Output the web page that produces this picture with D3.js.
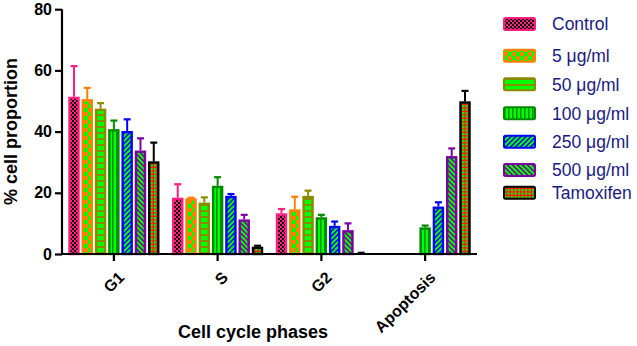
<!DOCTYPE html>
<html><head><meta charset="utf-8">
<script src="https://cdn.jsdelivr.net/npm/d3@7"></script>
<style>body{margin:0;background:#fff}svg{display:block}</style>
</head><body>
<svg id="c" width="637" height="346"></svg>
<script>
const phases = ["G1", "S", "G2", "Apoptosis"];
const seriesNames = ["Control", "5 \u03bcg/ml", "50 \u03bcg/ml", "100 \u03bcg/ml", "250 \u03bcg/ml", "500 \u03bcg/ml", "Tamoxifen"];
// means per series, in phase order G1, S, G2, Apoptosis
const control   = [51.4, 18.4, 13.3, 0];
const ug5       = [50.6, 18.2, 14.6, 0];
const ug50      = [47.5, 16.8, 19.0, 0];
const ug100     = [40.8, 22.3, 12.0, 8.7];
const ug250     = [40.2, 19.0, 9.2, 15.5];
const ug500     = [33.8, 11.3, 7.8, 32.0];
const tamoxifen = [30.3, 2.4, 0.3, 49.9];
// upper error bar ends
const controlErr   = [61.4, 22.8, 14.7, 0];
const ug5Err       = [54.3, 18.4, 18.7, 0];
const ug50Err      = [49.3, 18.5, 20.7, 0];
const ug100Err     = [43.6, 25.1, 12.8, 9.3];
const ug250Err     = [44.0, 19.6, 10.6, 16.9];
const ug500Err     = [37.8, 12.8, 10.0, 34.5];
const tamoxifenErr = [36.4, 2.7, 0.4, 53.3];
const yTicks = [0, 20, 40, 60, 80];

const means = [control, ug5, ug50, ug100, ug250, ug500, tamoxifen];
const errs = [controlErr, ug5Err, ug50Err, ug100Err, ug250Err, ug500Err, tamoxifenErr];

const strokeCols = ["#ff1f82", "#ff8000", "#8a8a00", "#008a00", "#0000ff", "#7a00a0", "#000000"];
const G = "#00ff00";

const svg = d3.select("#c");
const defs = svg.append("defs");
function pat(id, w, h, draw) {
  const p = defs.append("pattern").attr("id", id).attr("patternUnits", "userSpaceOnUse")
    .attr("width", w).attr("height", h);
  draw(p);
}
pat("p0", 4, 4, p => {
  p.append("rect").attr("width", 4).attr("height", 4).attr("fill", "#ff1f82");
  p.append("rect").attr("width", 2).attr("height", 2).attr("fill", "#000");
  p.append("rect").attr("x", 2).attr("y", 2).attr("width", 2).attr("height", 2).attr("fill", "#000");
});
pat("p1", 8, 8, p => {
  p.append("rect").attr("width", 8).attr("height", 8).attr("fill", "#ff8000");
  p.append("rect").attr("width", 4).attr("height", 4).attr("fill", G);
  p.append("rect").attr("x", 4).attr("y", 4).attr("width", 4).attr("height", 4).attr("fill", G);
});
pat("p2", 6, 6, p => {
  p.append("rect").attr("width", 6).attr("height", 6).attr("fill", G);
  p.append("rect").attr("width", 6).attr("height", 2).attr("fill", "#8a8a00");
});
pat("p3", 4, 4, p => {
  p.append("rect").attr("width", 4).attr("height", 4).attr("fill", G);
  p.append("rect").attr("width", 1.5).attr("height", 4).attr("fill", "#008a00");
});
pat("p4", 5, 5, p => {
  p.append("rect").attr("width", 5).attr("height", 5).attr("fill", "#0000ff");
  p.append("path").attr("d", "M-1,6 L6,-1 M-1,1 L1,-1 M4,6 L6,4").attr("stroke", G).attr("stroke-width", 2);
});
pat("p5", 5, 5, p => {
  p.append("rect").attr("width", 5).attr("height", 5).attr("fill", "#7a00a0");
  p.append("path").attr("d", "M-1,-1 L6,6 M4,-1 L6,1 M-1,4 L1,6").attr("stroke", G).attr("stroke-width", 2);
});
pat("p6", 3.5, 3.5, p => {
  p.append("rect").attr("width", 3.5).attr("height", 3.5).attr("fill", "#ff1010");
  p.append("rect").attr("width", 2.2).attr("height", 2.2).attr("fill", G);
});

const x0 = d3.scaleBand().domain(phases).range([62, 477]).padding(0);
const x1 = d3.scaleBand().domain(d3.range(seriesNames.length)).range([0, 91.2]).paddingInner(0.14).paddingOuter(0);
const y = d3.scaleLinear().domain([0, 80]).range([254, 9.2]);

// bars
const data = [];
seriesNames.forEach((s, si) => phases.forEach((ph, pi) => data.push({si, ph, v: means[si][pi], e: errs[si][pi]})));
const bx = d => x0(d.ph) + x0.bandwidth() / 2 - 91.2 / 2 + x1(d.si);

const gBars = svg.append("g");
data.filter(d => d.v > 0).forEach(d => {
  const xl = bx(d), w = x1.bandwidth();
  if (d.e > d.v) {
    gBars.append("line").attr("x1", xl + w / 2).attr("x2", xl + w / 2)
      .attr("y1", y(d.v)).attr("y2", y(d.e)).attr("stroke", strokeCols[d.si]).attr("stroke-width", 2);
    gBars.append("line").attr("x1", xl + w / 2 - 3.5).attr("x2", xl + w / 2 + 3.5)
      .attr("y1", y(d.e)).attr("y2", y(d.e)).attr("stroke", strokeCols[d.si]).attr("stroke-width", 2.2);
  }
  gBars.append("rect").attr("x", xl + 1.2).attr("width", w - 2.4)
    .attr("y", y(d.v) + 1.2).attr("height", Math.max(0, y(0) - y(d.v) - 1.2))
    .attr("fill", `url(#p${d.si})`).attr("stroke", strokeCols[d.si]).attr("stroke-width", 2.4);
});

// y axis
const yAxis = svg.append("g").attr("transform", "translate(62,0)")
  .call(d3.axisLeft(y).tickValues(yTicks).tickSize(7).tickPadding(3).tickFormat(d3.format("d")));
yAxis.select(".domain").attr("stroke-width", 2.2).attr("d", `M0,${y(80)}V${y(0)}`);
yAxis.selectAll(".tick line").attr("stroke-width", 2.2);
yAxis.selectAll("text").attr("font-family", "Liberation Sans, Arial, sans-serif").attr("font-weight", "bold").attr("font-size", 16).attr("fill", "#000");

// x axis
const xAxis = svg.append("g").attr("transform", `translate(0,${y(0)})`)
  .call(d3.axisBottom(x0).tickSize(7).tickSizeOuter(0));
xAxis.select(".domain").attr("stroke-width", 2.2).attr("d", "M61,0H477");
xAxis.selectAll(".tick line").attr("stroke-width", 2.2);
xAxis.selectAll("text")
  .attr("font-family", "Liberation Sans, Arial, sans-serif").attr("font-weight", "bold").attr("font-size", 16).attr("fill", "#000")
  .attr("text-anchor", "end").attr("y", 0).attr("dy", "0.75em")
  .attr("transform", "translate(3,16) rotate(-45)");

// axis titles
svg.append("text").attr("transform", `translate(17,${(y(0) + y(80)) / 2}) rotate(-90)`)
  .attr("text-anchor", "middle").attr("font-family", "Liberation Sans, Arial, sans-serif")
  .attr("font-weight", "bold").attr("font-size", 18).text("% cell proportion");
svg.append("text").attr("x", 253).attr("y", 338)
  .attr("text-anchor", "middle").attr("font-family", "Liberation Sans, Arial, sans-serif")
  .attr("font-weight", "bold").attr("font-size", 18).text("Cell cycle phases");

// legend
const legendRowY = [24, 55.7, 84.3, 113.3, 141.7, 170, 192.7];
const lg = svg.append("g");
seriesNames.forEach((s, i) => {
  const cy = legendRowY[i];
  lg.append("rect").attr("x", 504).attr("y", cy - 6).attr("width", 31).attr("height", 12).attr("rx", 1.5)
    .attr("fill", `url(#p${i})`).attr("stroke", strokeCols[i]).attr("stroke-width", 2);
  lg.append("text").attr("x", 552).attr("y", cy).attr("dy", "0.36em")
    .attr("font-family", "Liberation Sans, Arial, sans-serif").attr("font-size", 17.5).attr("fill", "#1a1a80").text(s);
});
</script>
</body></html>
